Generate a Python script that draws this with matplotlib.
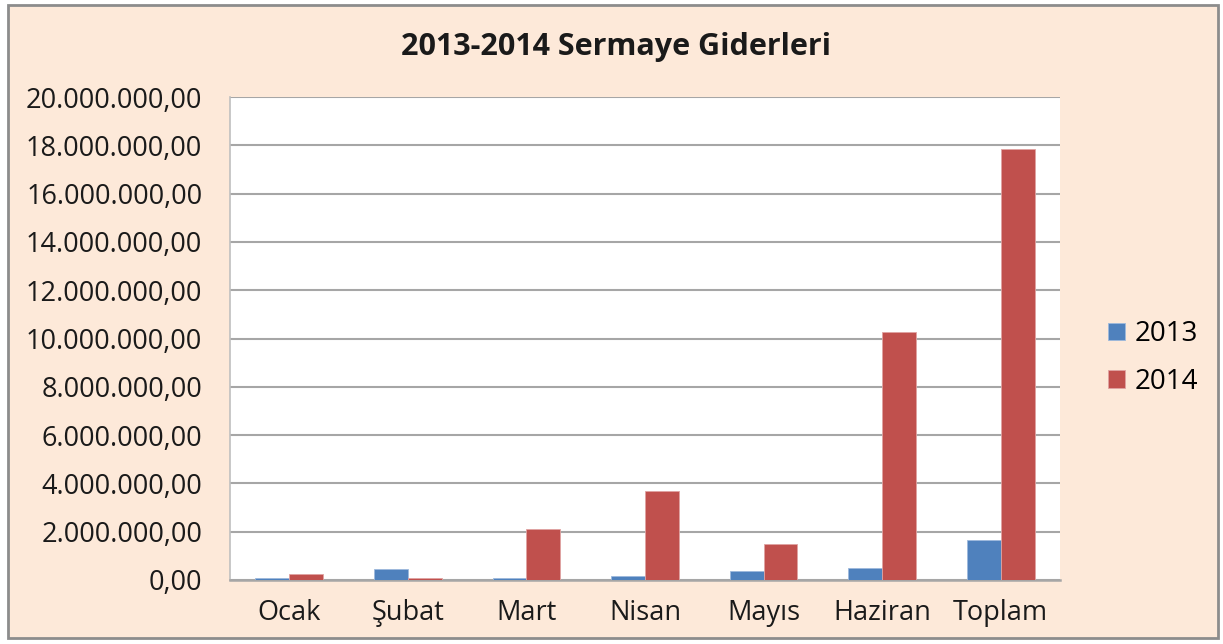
import matplotlib
matplotlib.use("Agg")
import matplotlib.pyplot as plt
from matplotlib.patches import Rectangle
import numpy as np

categories = ["Ocak", "Şubat", "Mart", "Nisan", "Mayıs", "Haziran", "Toplam"]
values_2013 = [70000, 440000, 70000, 180000, 385000, 497000, 1660000]
values_2014 = [240000, 70000, 2120000, 3700000, 1490000, 10270000, 17850000]
series_names = ["2013", "2014"]
yticks = np.arange(0, 20000001, 2000000)

def fmt(v):
    s = f"{int(v):,}".replace(",", ".")
    return s + ",00"

plt.rcParams['font.family'] = ['Open Sans', 'DejaVu Sans']
W, H = 1223, 644
fig = plt.figure(figsize=(W / 100, H / 100), dpi=100)
fig.patch.set_facecolor("white")
bg = Rectangle((8 / W, 1 - 638 / H), (1218 - 8) / W, (638 - 5) / H,
               transform=fig.transFigure, facecolor="#FDE9D9",
               edgecolor="#8C8C8C", linewidth=2, zorder=-10)
fig.patches.append(bg)

ax = fig.add_axes([230 / W, 1 - 580 / H, (1060 - 230) / W, (580 - 97) / H])
ax.set_zorder(1)
ax.set_facecolor("white")
x = np.arange(len(categories))
bw = 1 / 3.5
c13, c14 = "#4F81BD", "#C0504D"
ax.bar(x - bw / 2, values_2013, bw, color=c13, label=series_names[0], zorder=3,
       edgecolor="#9DB9DC", linewidth=0.6)
ax.bar(x + bw / 2, values_2014, bw, color=c14, label=series_names[1], zorder=3,
       edgecolor="#E0A3A2", linewidth=0.6)
ax.set_xlim(-0.5, len(categories) - 0.5)
ax.set_ylim(0, 20000000)
ax.set_yticks(yticks)
ax.set_yticklabels([fmt(v) for v in yticks], fontsize=19.5, color="#1a1a1a")
ax.set_xticks(x)
ax.set_xticklabels(categories, fontsize=19.5, color="#1a1a1a")
ax.tick_params(axis="x", length=0, pad=14)
ax.tick_params(axis="y", length=0, pad=20)
ax.yaxis.grid(True, color="#A6A6A6", linewidth=1.5, zorder=1)
ax.set_axisbelow(True)
for s in ["top", "right"]:
    ax.spines[s].set_visible(False)
ax.spines["left"].set_color("#BFBFBF")
ax.spines["left"].set_linewidth(1.2)
ax.spines["bottom"].set_color("#A6A6A6")
ax.spines["bottom"].set_linewidth(1.8)

fig.text(616 / W, 1 - 47 / H, "2013-2014 Sermaye Giderleri", ha="center", va="center",
         fontsize=22, fontweight="bold", color="#1a1a1a")

leg = fig.legend(loc="center left", bbox_to_anchor=(1083 / W, 1 - 358 / H), frameon=False,
                 fontsize=20, handlelength=0.6, handleheight=0.6, handletextpad=0.35,
                 labelspacing=0.7)
fig.savefig("out.png", dpi=100, facecolor=fig.get_facecolor())
